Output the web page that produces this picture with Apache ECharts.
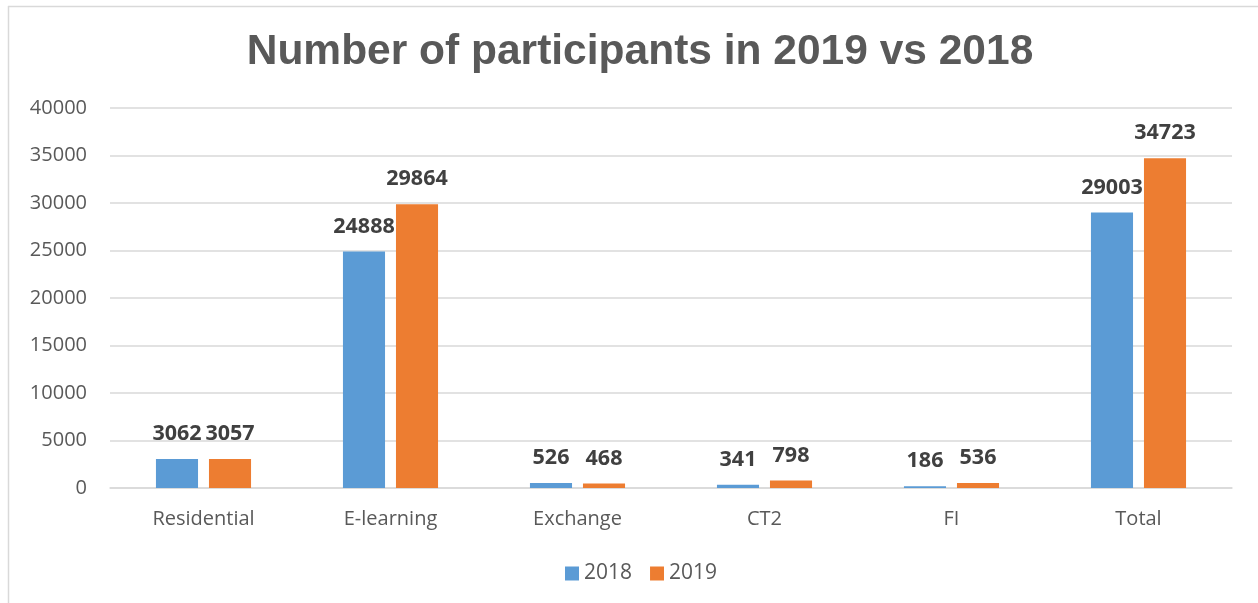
<!DOCTYPE html>
<html>
<head>
<meta charset="utf-8">
<script src="https://cdn.jsdelivr.net/npm/echarts@6/dist/echarts.min.js"></script>
<style>
  html, body { margin: 0; padding: 0; background: #ffffff; }
  #chart { width: 1258px; height: 603px; }
</style>
</head>
<body>
<div id="chart"></div>
<script>
const categories = ['Residential', 'E-learning', 'Exchange', 'CT2', 'FI', 'Total'];
const values2018 = [3062, 24888, 526, 341, 186, 29003];
const values2019 = [3057, 29864, 468, 798, 536, 34723];
const seriesNames = ['2018', '2019'];
const titleText = 'Number of participants in 2019 vs 2018';

const chart = echarts.init(document.getElementById('chart'));
const labelStyle = {
  show: true,
  position: 'top',
  distance: 14,
  fontFamily: 'Open Sans',
  fontWeight: 'bold',
  fontSize: 21.5,
  color: '#404040'
};
chart.setOption({
  animation: false,
  backgroundColor: '#ffffff',
  graphic: [
    { type: 'line', shape: { x1: 8.5, y1: 6, x2: 8.5, y2: 603 }, style: { stroke: '#d9d9d9', lineWidth: 1.5 } },
    { type: 'line', shape: { x1: 8, y1: 6.5, x2: 1258, y2: 6.5 }, style: { stroke: '#d9d9d9', lineWidth: 1.5 } }
  ],
  title: {
    text: titleText,
    left: 635,
    textAlign: 'center',
    top: 26,
    textStyle: {
      fontFamily: 'Liberation Sans',
      fontWeight: 'bold',
      fontSize: 42.5,
      color: '#595959'
    }
  },
  legend: {
    data: seriesNames,
    bottom: 14,
    left: 560,
    itemWidth: 14,
    itemHeight: 14,
    itemGap: 18,
    icon: 'rect',
    textStyle: { fontFamily: 'Open Sans', fontSize: 21, color: '#595959' }
  },
  grid: { left: 110, right: 26, top: 108, bottom: 115, containLabel: false },
  xAxis: {
    type: 'category',
    data: categories,
    axisLine: { lineStyle: { color: '#d9d9d9', width: 1.5 } },
    axisTick: { show: false },
    axisLabel: { fontFamily: 'Open Sans', fontSize: 20, color: '#595959', margin: 21 }
  },
  yAxis: {
    type: 'value',
    min: 0,
    max: 40000,
    interval: 5000,
    axisLine: { show: false },
    axisTick: { show: false },
    splitLine: { lineStyle: { color: '#d9d9d9', width: 1.5 } },
    axisLabel: { fontFamily: 'Open Sans', fontSize: 20, color: '#595959', margin: 23, formatter: v => String(v) }
  },
  series: [
    {
      name: seriesNames[0],
      type: 'bar',
      data: values2018,
      barWidth: '22.5%',
      barGap: '26%',
      itemStyle: { color: '#5b9bd5' },
      label: labelStyle
    },
    {
      name: seriesNames[1],
      type: 'bar',
      data: values2019,
      barWidth: '22.5%',
      barGap: '26%',
      itemStyle: { color: '#ed7d31' },
      label: labelStyle
    }
  ]
});
</script>
</body>
</html>
